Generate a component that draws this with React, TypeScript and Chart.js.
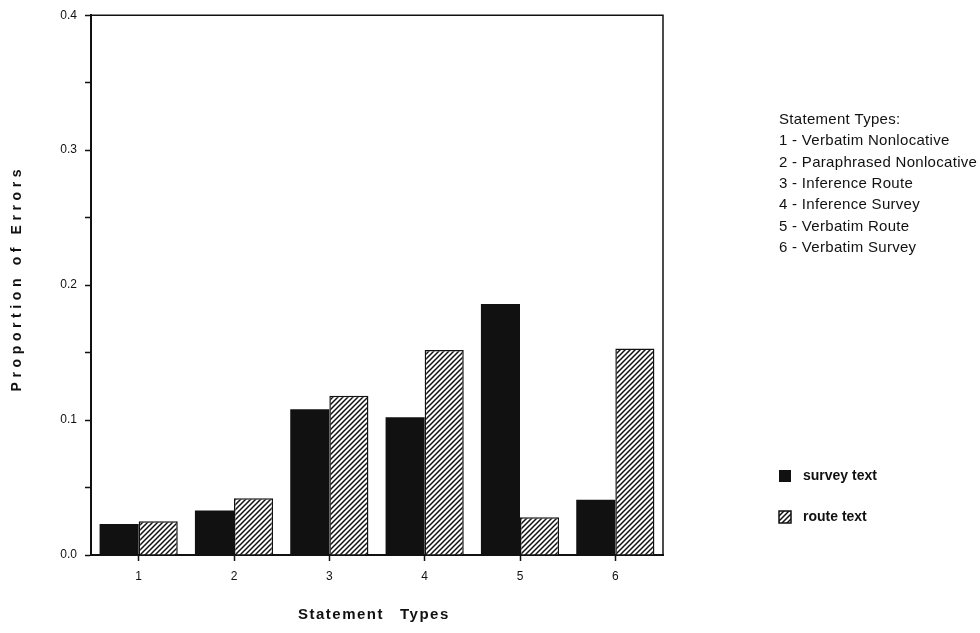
import React, { useEffect, useRef } from "react";
import { Chart, registerables } from "chart.js";

Chart.register(...registerables);

const categories = ["1", "2", "3", "4", "5", "6"];
const surveyText = [0.023, 0.033, 0.108, 0.102, 0.186, 0.041];
const routeText = [0.025, 0.042, 0.118, 0.152, 0.028, 0.153];
const seriesLabels = ["survey text", "route text"];
const yMin = 0;
const yMax = 0.4;
const yStep = 0.05;
const xTitleWords = ["Statement", "Types"];
const yTitle = "Proportion of Errors";
const notesTitle = "Statement Types:";
const notes = [
  "1 - Verbatim Nonlocative",
  "2 - Paraphrased Nonlocative",
  "3 - Inference Route",
  "4 - Inference Survey",
  "5 - Verbatim Route",
  "6 - Verbatim Survey",
];

const FONT = '"Liberation Sans", Arial, Helvetica, sans-serif';
const INK = "#111";

function makeHatch(): CanvasPattern | string {
  const s = 5;
  const c = document.createElement("canvas");
  c.width = s;
  c.height = s;
  const g = c.getContext("2d");
  if (!g) return "#888";
  g.fillStyle = "#fff";
  g.fillRect(0, 0, s, s);
  g.strokeStyle = INK;
  g.lineWidth = 1.5;
  g.beginPath();
  g.moveTo(-1, s + 1);
  g.lineTo(s + 1, -1);
  g.moveTo(-1, 1);
  g.lineTo(1, -1);
  g.moveTo(s - 1, s + 1);
  g.lineTo(s + 1, s - 1);
  g.stroke();
  const p = g.createPattern(c, "repeat");
  return p || "#888";
}

export default function App() {
  const ref = useRef<HTMLCanvasElement | null>(null);

  useEffect(() => {
    const canvas = ref.current;
    if (!canvas) return;
    const hatch = makeHatch();

    const decor = {
      id: "decor",
      afterDraw(chart: any) {
        const ctx = chart.ctx as CanvasRenderingContext2D;
        const a = chart.chartArea;
        ctx.save();
        // top and right frame
        ctx.strokeStyle = INK;
        ctx.lineWidth = 1.5;
        ctx.beginPath();
        ctx.moveTo(a.left, a.top);
        ctx.lineTo(a.right, a.top);
        ctx.lineTo(a.right, a.bottom);
        ctx.stroke();

        // axis titles
        ctx.fillStyle = INK;
        ctx.textBaseline = "middle";
        ctx.font = `bold 15px ${FONT}`;
        (ctx as any).letterSpacing = "1.5px";
        ctx.textAlign = "left";
        ctx.fillText(xTitleWords[0], 298, 615);
        ctx.fillText(xTitleWords[1], 400, 615);

        ctx.save();
        ctx.translate(17, (a.top + a.bottom) / 2 - 7);
        ctx.rotate(-Math.PI / 2);
        ctx.font = `bold 14px ${FONT}`;
        (ctx as any).letterSpacing = "4.6px";
        ctx.textAlign = "center";
        ctx.fillText(yTitle, 0, 0);
        ctx.restore();

        // statement types notes
        (ctx as any).letterSpacing = "0.3px";
        ctx.textAlign = "left";
        ctx.font = `15px ${FONT}`;
        const nx = 779;
        const ny = 120;
        const step = 21.3;
        ctx.fillText(notesTitle, nx, ny);
        notes.forEach((t, i) => ctx.fillText(t, nx, ny + step * (i + 1)));

        // legend
        (ctx as any).letterSpacing = "0px";
        const ds = chart.data.datasets;
        const ly = [476, 517];
        ds.forEach((d: any, i: number) => {
          const y = ly[i];
          ctx.fillStyle = d.backgroundColor;
          ctx.fillRect(779, y - 6, 12, 12);
          if (d.borderWidth) {
            ctx.strokeStyle = INK;
            ctx.lineWidth = 1.5;
            ctx.strokeRect(779, y - 6, 12, 12);
          }
          ctx.fillStyle = INK;
          ctx.font = `bold 14px ${FONT}`;
          ctx.fillText(d.label, 803, y);
        });
        ctx.restore();
      },
    };

    const chart = new Chart(canvas, {
      type: "bar",
      data: {
        labels: categories,
        datasets: [
          {
            label: seriesLabels[0],
            data: surveyText,
            backgroundColor: INK,
            borderWidth: 0,
            barPercentage: 1,
            categoryPercentage: 0.82,
          },
          {
            label: seriesLabels[1],
            data: routeText,
            backgroundColor: hatch as any,
            borderColor: INK,
            borderWidth: 1.5,
            barPercentage: 1,
            categoryPercentage: 0.82,
          },
        ],
      },
      options: {
        responsive: false,
        animation: false,
        layout: { padding: { top: 15, right: 980 - 663, left: 0, bottom: 0 } },
        plugins: {
          legend: { display: false },
          tooltip: { enabled: false },
          title: { display: false },
        },
        scales: {
          x: {
            afterFit(s: any) {
              s.height = 633 - 555;
            },
            grid: {
              display: true,
              drawOnChartArea: false,
              offset: false,
              tickLength: 6,
              tickColor: INK,
              tickWidth: 1.5,
            },
            border: { display: true, color: INK, width: 2 },
            ticks: {
              color: INK,
              font: { family: FONT, size: 12 },
              padding: 8,
            },
          },
          y: {
            min: yMin,
            max: yMax,
            afterFit(s: any) {
              s.width = 91;
            },
            grid: {
              display: true,
              drawOnChartArea: false,
              tickLength: 6,
              tickColor: INK,
              tickWidth: 1.5,
            },
            border: { display: true, color: INK, width: 2 },
            ticks: {
              stepSize: yStep,
              color: INK,
              font: { family: FONT, size: 12 },
              padding: 8,
              callback: (v: any) => {
                const n = Number(v) * 10;
                return Math.abs(n - Math.round(n)) < 1e-6 ? Number(v).toFixed(1) : "";
              },
            },
          },
        },
      },
      plugins: [decor],
    });

    return () => chart.destroy();
  }, []);

  return (
    <div style={{ position: "absolute", left: 0, top: 0, width: 980, height: 633, background: "#fff" }}>
      <canvas ref={ref} width={980} height={633} style={{ display: "block" }} />
    </div>
  );
}
